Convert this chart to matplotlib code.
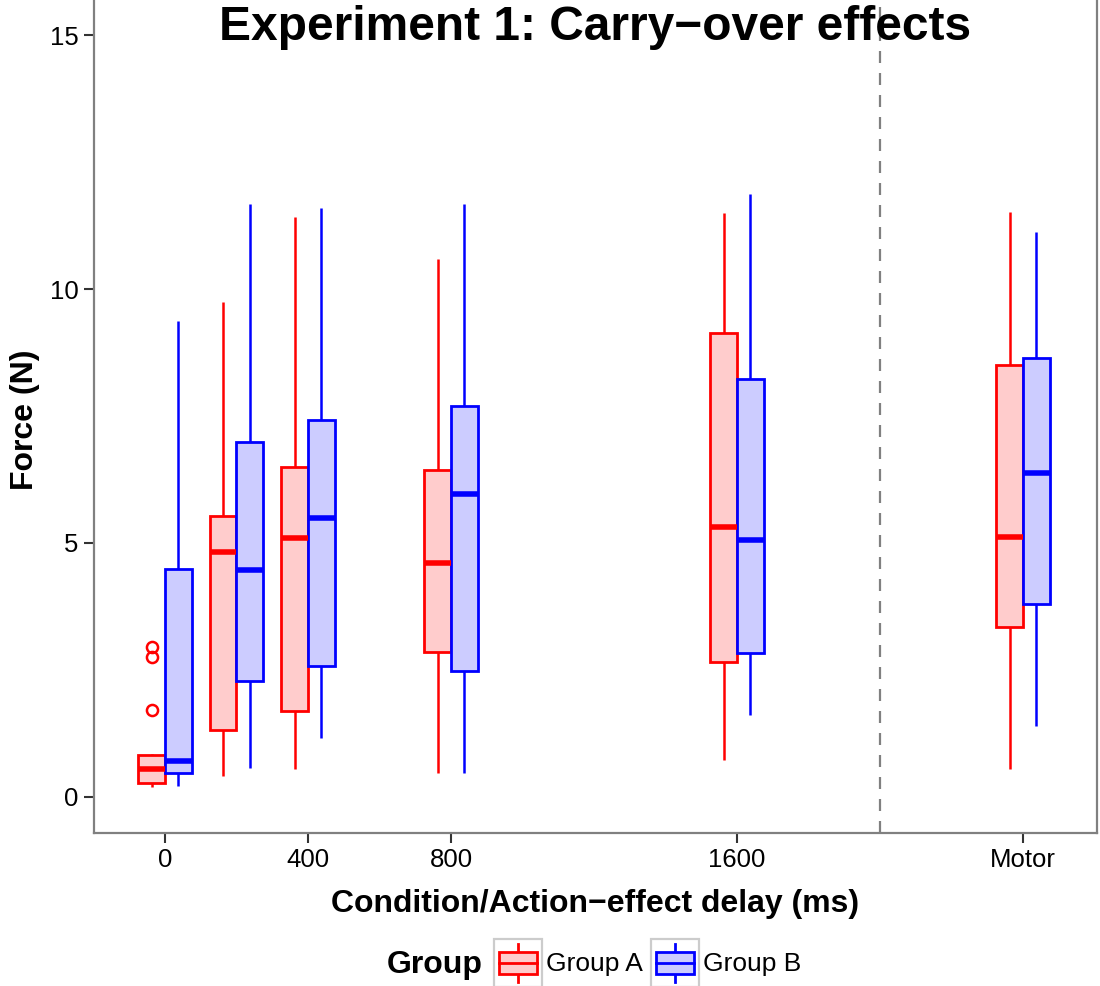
import matplotlib
matplotlib.use("Agg")
import matplotlib.pyplot as plt
from matplotlib.patches import Rectangle
from matplotlib.lines import Line2D
from matplotlib.legend_handler import HandlerBase

plt.rcParams['font.family'] = ['Liberation Sans', 'DejaVu Sans']

# Delay conditions (ms); the motor-only condition sits at 2400 on the axis
positions = [0, 200, 400, 800, 1600, 2400]
tick_pos = [0, 400, 800, 1600, 2400]
tick_labels = ['0', '400', '800', '1600', 'Motor']
groups = ['Group A', 'Group B']

# Box summaries per condition (force in N)
a_q1 = [0.28, 1.32, 1.70, 2.85, 2.66, 3.35]
a_med = [0.55, 4.83, 5.10, 4.60, 5.32, 5.11]
a_q3 = [0.82, 5.53, 6.49, 6.44, 9.13, 8.50]
a_lo = [0.20, 0.41, 0.55, 0.48, 0.73, 0.55]
a_hi = [0.84, 9.75, 11.41, 10.60, 11.49, 11.51]
a_out = [[1.71, 2.76, 2.96], [], [], [], [], []]

b_q1 = [0.48, 2.29, 2.57, 2.48, 2.83, 3.80]
b_med = [0.715, 4.47, 5.50, 5.96, 5.06, 6.37]
b_q3 = [4.48, 6.99, 7.42, 7.70, 8.22, 8.64]
b_lo = [0.22, 0.56, 1.16, 0.48, 1.61, 1.40]
b_hi = [9.37, 11.67, 11.59, 11.67, 11.88, 11.13]
b_out = [[], [], [], [], [], []]

edge_cols = ['#FF0000', '#0000FF']
fill_cols = ['#FFCCCC', '#CCCCFF']
box_w = 75
offsets = [-box_w / 2, box_w / 2]

fig = plt.figure(figsize=(11, 9.86), dpi=100)
ax = fig.add_axes([94 / 1100, 153 / 986, (1097 - 94) / 1100, 1 - 153 / 986])

series = [(a_q1, a_med, a_q3, a_lo, a_hi, a_out),
          (b_q1, b_med, b_q3, b_lo, b_hi, b_out)]
for gi, (q1, med, q3, lo, hi, out) in enumerate(series):
    stats = [dict(q1=q1[i], med=med[i], q3=q3[i], whislo=lo[i], whishi=hi[i],
                  fliers=out[i]) for i in range(len(positions))]
    ec = edge_cols[gi]
    ax.bxp(stats, positions=[p + offsets[gi] for p in positions],
           widths=box_w, patch_artist=True, showcaps=False, manage_ticks=False,
           boxprops=dict(facecolor=fill_cols[gi], edgecolor=ec, linewidth=2.0),
           whiskerprops=dict(color=ec, linewidth=1.8, solid_capstyle='butt'),
           medianprops=dict(color=ec, linewidth=4.0, solid_capstyle='butt'),
           flierprops=dict(marker='o', markerfacecolor='none', markeredgecolor=ec,
                           markersize=8, markeredgewidth=1.8))

# Separator between the delay conditions and the motor condition
ax.axvline(2000, color='#808080', linewidth=1.6, linestyle=(0, (5.4, 4.5)))

ax.set_xlim(-198.6, 2607)
ax.set_ylim(-0.71, 15.69)
ax.set_xticks(tick_pos)
ax.set_xticklabels(tick_labels)
ax.set_yticks([0, 5, 10, 15])
ax.tick_params(axis='both', length=7, width=1.5, color='#333333',
               labelsize=18.5, labelcolor='black', pad=4)

for side in ['left', 'bottom', 'right']:
    ax.spines[side].set_color('#808080')
    ax.spines[side].set_linewidth(1.6)
ax.spines['top'].set_visible(False)

ax.text(0.5, 1 - 27 / 833, 'Experiment 1: Carry\u2212over effects', transform=ax.transAxes,
        ha='center', va='center', fontsize=34.5, fontweight='bold')

ax.set_xlabel('Condition/Action\u2212effect delay (ms)', fontsize=23, fontweight='bold',
              va='center')
ax.xaxis.set_label_coords(0.5, (833 - 904) / 833)
ax.set_ylabel('Force (N)', fontsize=23, fontweight='bold', va='center')
ax.yaxis.set_label_coords((25 - 94) / 1003, (833 - 420) / 833)


class BoxKeyHandler(HandlerBase):
    def __init__(self, edge, face):
        super().__init__()
        self.edge = edge
        self.face = face

    def create_artists(self, legend, orig_handle, xdescent, ydescent,
                       width, height, fontsize, trans):
        x0, y0 = -xdescent, -ydescent
        frame = Rectangle((x0, y0), width, height, facecolor='white',
                          edgecolor='#CCCCCC', linewidth=1.6, transform=trans)
        bw, bh = width * 0.79, height * 0.45
        bx, by = x0 + (width - bw) / 2, y0 + (height - bh) / 2
        whisk = Line2D([x0 + width / 2] * 2, [y0 + height * 0.1, y0 + height * 0.9],
                       color=self.edge, linewidth=2.0, transform=trans)
        box = Rectangle((bx, by), bw, bh, facecolor=self.face, edgecolor=self.edge,
                        linewidth=2.0, transform=trans)
        median = Line2D([bx, bx + bw], [y0 + height / 2] * 2, color=self.edge,
                        linewidth=2.0, transform=trans)
        return [frame, whisk, box, median]


handles = [Rectangle((0, 0), 1, 1) for _ in groups]
handler_map = {h: BoxKeyHandler(edge_cols[i], fill_cols[i]) for i, h in enumerate(handles)}
fig.legend(handles, groups, handler_map=handler_map, loc='center left',
           bbox_to_anchor=(494 / 1100, 1 - 963 / 986), ncol=2, frameon=False,
           fontsize=19, handlelength=1.82, handleheight=2.38, handletextpad=0.15,
           columnspacing=0.32, borderpad=0, borderaxespad=0)
fig.text(435 / 1100, 1 - 965 / 986, 'Group', ha='center', va='center',
         fontsize=23, fontweight='bold')

fig.savefig('out.png', dpi=100)
